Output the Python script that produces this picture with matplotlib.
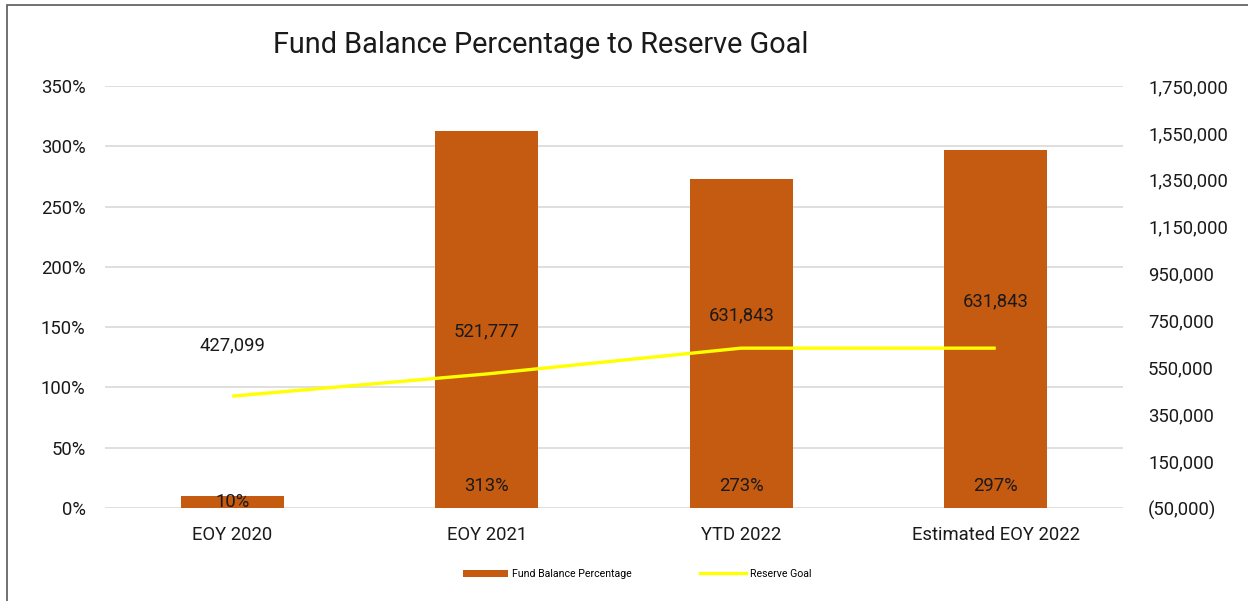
import matplotlib
matplotlib.use("Agg")
import matplotlib.pyplot as plt
from matplotlib.ticker import FuncFormatter, MultipleLocator
from matplotlib.patches import Rectangle
from matplotlib.lines import Line2D
from matplotlib.patches import Patch

categories = ["EOY 2020", "EOY 2021", "YTD 2022", "Estimated EOY 2022"]
fund_pct = [10, 313, 273, 297]
reserve_goal = [427099, 521777, 631843, 631843]
# label offsets above each line point (px)
goal_label_offsets = [51, 43, 33, 47]

BAR_COLOR = "#C55A11"
LINE_COLOR = "#FFFF00"
GRID = "#D9D9D9"
TXT = "#1a1a1a"
FS = 13.3

plt.rcParams["font.family"] = ["Roboto", "DejaVu Sans"]

fig = plt.figure(figsize=(12.48, 6.01), dpi=100)
ax = fig.add_axes([105 / 1248, 93 / 601, 1018 / 1248, 422 / 601])
ax2 = ax.twinx()

x = list(range(len(categories)))
bars = ax.bar(x, fund_pct, width=0.405, color=BAR_COLOR, zorder=2)
ax.set_xlim(-0.5, len(categories) - 0.5)
ax.set_ylim(0, 350)
ax.yaxis.set_major_locator(MultipleLocator(50))
ax.yaxis.set_major_formatter(FuncFormatter(lambda v, p: f"{v:.0f}%"))
ax.grid(axis="y", color=GRID, linewidth=1.2, zorder=0)
ax.set_axisbelow(True)
ax.set_xticks(x)
ax.set_xticklabels(categories)
ax.tick_params(axis="x", length=0, pad=13, labelsize=FS, labelcolor=TXT)
ax.tick_params(axis="y", length=0, pad=14, labelsize=FS, labelcolor=TXT)
for s in ax.spines.values():
    s.set_visible(False)

for rect, v in zip(bars, fund_pct):
    h_px = v / 350 * 422
    off = min(22, h_px / 2)
    ax.annotate(f"{v}%", (rect.get_x() + rect.get_width() / 2, 0),
                xytext=(0, off * 0.72), textcoords="offset points",
                ha="center", va="center", fontsize=FS, color=TXT, zorder=4)

ax2.plot(x, reserve_goal, color=LINE_COLOR, linewidth=2.4, zorder=3,
         solid_capstyle="butt")
ax2.set_ylim(-50000, 1750000)
ax2.set_yticks(range(-50000, 1750001, 200000))


def money(v, p):
    if v < 0:
        return f"({abs(v):,.0f})"
    return f"{v:,.0f}"


ax2.yaxis.set_major_formatter(FuncFormatter(money))
ax2.tick_params(axis="y", length=0, pad=18, labelsize=FS, labelcolor=TXT)
for lbl in ax2.get_yticklabels():
    lbl.set_horizontalalignment("left")
for s in ax2.spines.values():
    s.set_visible(False)

for xi, v, off in zip(x, reserve_goal, goal_label_offsets):
    ax2.annotate(f"{v:,}", (xi, v), xytext=(0, off * 0.72),
                 textcoords="offset points", ha="center", va="center",
                 fontsize=FS, color=TXT)

fig.text(541 / 1248, 1 - 45 / 601, "Fund Balance Percentage to Reserve Goal",
         ha="center", va="center", fontsize=20.8, color=TXT)

handles = [Patch(facecolor=BAR_COLOR, label="Fund Balance Percentage"),
           Line2D([0], [0], color=LINE_COLOR, linewidth=2.4, label="Reserve Goal")]
fig.legend(handles=handles, loc="center", bbox_to_anchor=(637 / 1248, 1 - 574 / 601),
           ncol=2, frameon=False, fontsize=7.6, handlelength=4.3, handleheight=0.6,
           columnspacing=6.5, handletextpad=0.35)

# chart frame (left and top edges visible)
fig.add_artist(Rectangle((7 / 1248, -0.1), 1.2, 1 - 5 / 601 + 0.1,
                         transform=fig.transFigure, fill=False,
                         edgecolor="#595959", linewidth=1.2))

fig.savefig("out.png", dpi=100, facecolor="white")
